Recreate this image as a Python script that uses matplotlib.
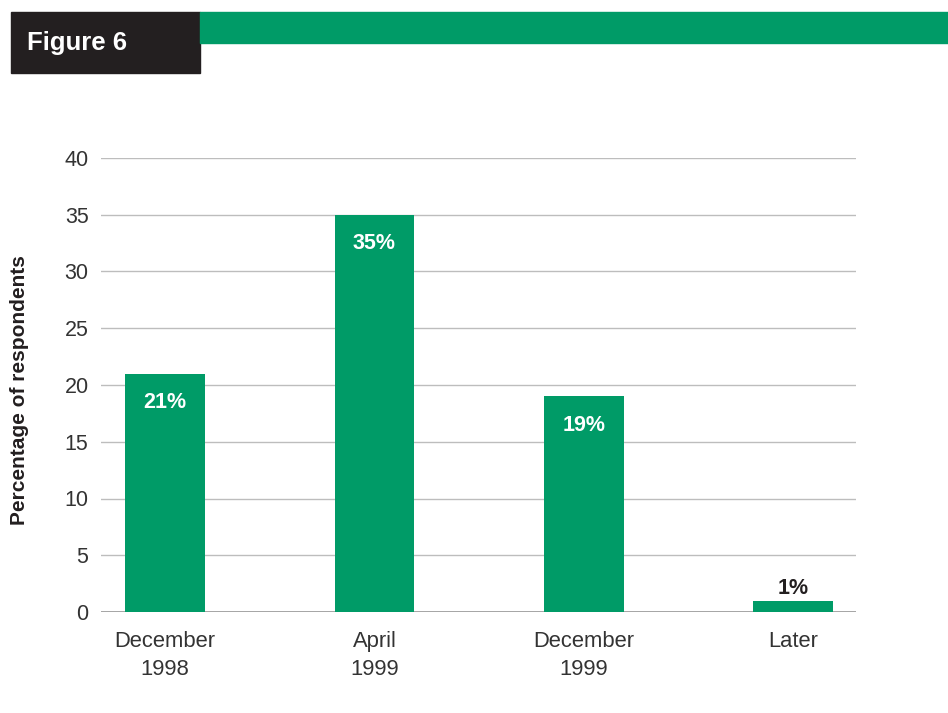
import matplotlib.pyplot as plt
from matplotlib.patches import Rectangle

# Survey results: when respondents expect to be ready
categories = ["December\n1998", "April\n1999", "December\n1999", "Later"]
percentages = [21, 35, 19, 1]
y_ticks = [0, 5, 10, 15, 20, 25, 30, 35, 40]

GREEN = "#009B67"
DARK = "#231F20"
TEXT = "#333333"
GRID = "#BDBDBD"

plt.rcParams['font.family'] = ['Liberation Sans', 'DejaVu Sans']

fig = plt.figure(figsize=(9.48, 7.13), dpi=100)

# Header: black label box with green band to its right
fig.patches.append(Rectangle((11 / 948, 1 - 73 / 713), 189 / 948, 61 / 713,
                             transform=fig.transFigure, color=DARK, zorder=0))
fig.patches.append(Rectangle((200 / 948, 1 - 43 / 713), 748 / 948, 31 / 713,
                             transform=fig.transFigure, color=GREEN, zorder=0))
fig.text(27 / 948, 1 - 43 / 713, "Figure 6", color="white", fontsize=18.5,
         fontweight="bold", va="center", ha="left")

ax = fig.add_axes([101 / 948, 1 - 612 / 713, 755 / 948, 454 / 713])
x = list(range(len(categories)))
bars = ax.bar(x, percentages, width=0.38, color=GREEN, zorder=3)

for xi, v in zip(x, percentages):
    label = f"{v}%"
    if v >= 5:
        ax.annotate(label, (xi, v), xytext=(0, -21), textcoords="offset points",
                    ha="center", va="center", color="white", fontsize=15.5,
                    fontweight="bold", zorder=4)
    else:
        ax.annotate(label, (xi, v), xytext=(0, 9), textcoords="offset points",
                    ha="center", va="center", color=DARK, fontsize=15.5,
                    fontweight="bold", zorder=4)

ax.set_xlim(-0.306, 3.3)
ax.set_ylim(0, 40)
ax.set_yticks(y_ticks)
ax.set_xticks(x)
ax.set_xticklabels(categories, fontsize=15.8, color=TEXT, linespacing=1.38)
ax.tick_params(axis="y", labelsize=15.5, labelcolor=TEXT, length=0, pad=9)
ax.tick_params(axis="x", length=0, pad=14)
ax.yaxis.grid(True, color=GRID, linewidth=1.0, zorder=0)
ax.set_axisbelow(True)
for s in ax.spines.values():
    s.set_visible(False)
ax.axhline(0, color="#A0A0A0", linewidth=1.3, zorder=2)

fig.text(20 / 948, 1 - 390 / 713, "Percentage of respondents", rotation=90,
         ha="center", va="center", fontsize=15, fontweight="bold", color=DARK)

fig.savefig("out.png", dpi=100)
